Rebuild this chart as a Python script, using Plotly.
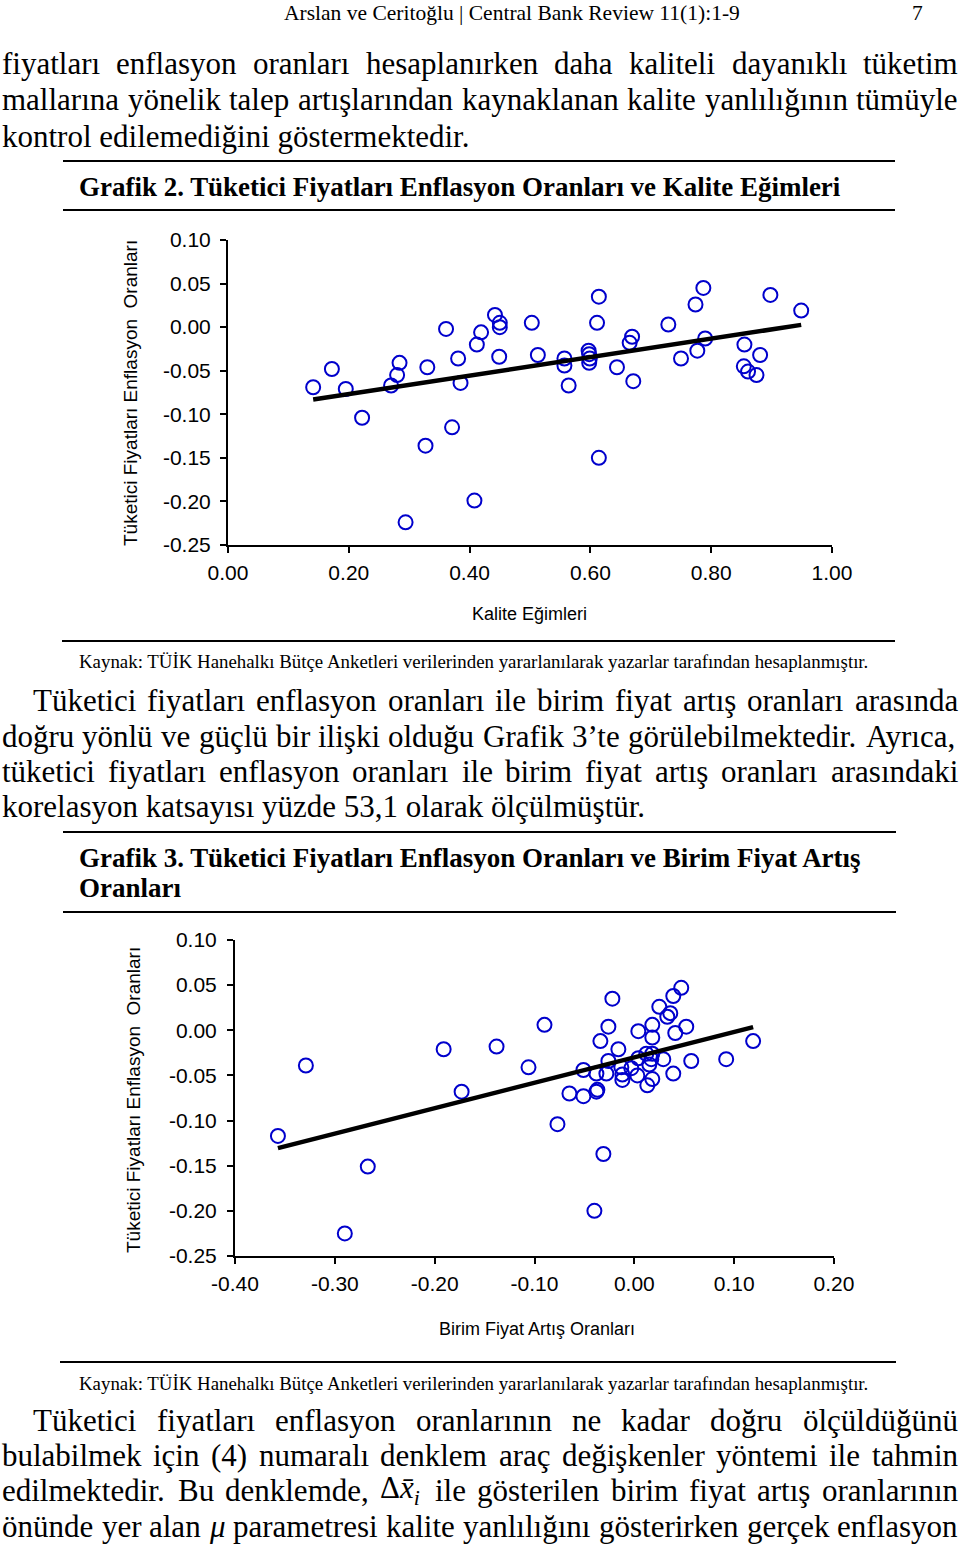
import plotly.graph_objects as go

W, H = 960, 1546

# ---------------- data: Grafik 2 ----------------
kalite_egimleri = [0.141, 0.172, 0.195, 0.222, 0.270, 0.280, 0.284, 0.294, 0.327, 0.330,
                   0.361, 0.371, 0.381, 0.385, 0.408, 0.412, 0.419, 0.442, 0.450, 0.450,
                   0.449, 0.503, 0.513, 0.557, 0.557, 0.564, 0.597, 0.598, 0.599, 0.598,
                   0.614, 0.611, 0.614, 0.644, 0.669, 0.665, 0.671, 0.729, 0.750, 0.774,
                   0.787, 0.777, 0.790, 0.855, 0.854, 0.861, 0.875, 0.881, 0.898, 0.949]
enflasyon_g2 = [-0.069, -0.048, -0.071, -0.104, -0.067, -0.055, -0.041, -0.224, -0.136, -0.046,
                -0.002, -0.115, -0.036, -0.064, -0.199, -0.020, -0.006, 0.014, 0.005, 0.000,
                -0.034, 0.005, -0.032, -0.036, -0.044, -0.067, -0.027, -0.031, -0.036, -0.041,
                0.035, 0.005, -0.150, -0.046, -0.011, -0.018, -0.062, 0.003, -0.036, 0.026,
                0.045, -0.027, -0.013, -0.020, -0.045, -0.051, -0.055, -0.032, 0.037, 0.019]
trend_g2_slope = 0.106
trend_g2_intercept = -0.098

# ---------------- data: Grafik 3 ----------------
birim_fiyat_artis = [-0.357, -0.329, -0.290, -0.267, -0.191, -0.173, -0.138, -0.106, -0.090, -0.077,
                     -0.065, -0.051, -0.051, -0.040, -0.038, -0.037, -0.038, -0.034, -0.031, -0.026,
                     -0.022, -0.028, -0.026, -0.016, -0.012, -0.012, -0.013, -0.003, 0.003, 0.004,
                     0.004, 0.013, 0.012, 0.017, 0.015, 0.018, 0.018, 0.018, 0.018, 0.025,
                     0.029, 0.033, 0.036, 0.039, 0.047, 0.041, 0.039, 0.052, 0.057, 0.092, 0.119]
enflasyon_g3 = [-0.117, -0.039, -0.225, -0.151, -0.021, -0.068, -0.018, -0.041, 0.006, -0.104,
                -0.070, -0.073, -0.044, -0.200, -0.068, -0.066, -0.048, -0.012, -0.137, 0.004,
                0.035, -0.048, -0.034, -0.021, -0.049, -0.055, -0.041, -0.042, -0.050, -0.031,
                -0.001, -0.061, -0.026, -0.032, -0.038, -0.054, -0.008, 0.006, -0.026, 0.026,
                -0.032, 0.015, 0.019, 0.038, 0.047, -0.003, -0.048, 0.004, -0.034, -0.032, -0.012]
trend_g3_slope = 0.2815
trend_g3_intercept = -0.030

y_ticks = [-0.25, -0.20, -0.15, -0.10, -0.05, 0.00, 0.05, 0.10]
x_ticks_g2 = [0.0, 0.2, 0.4, 0.6, 0.8, 1.0]
x_ticks_g3 = [-0.4, -0.3, -0.2, -0.1, 0.0, 0.1, 0.2]

# ---------------- text ----------------
header_text = "Arslan ve Ceritoğlu | Central Bank Review 11(1):1-9"
page_no = "7"
para1 = ["fiyatları enflasyon oranları hesaplanırken daha kaliteli dayanıklı tüketim",
         "mallarına yönelik talep artışlarından kaynaklanan kalite yanlılığının tümüyle",
         "kontrol edilemediğini göstermektedir."]
caption2 = "Grafik 2. Tüketici Fiyatları Enflasyon Oranları ve Kalite Eğimleri"
source_text = "Kaynak: TÜİK Hanehalkı Bütçe Anketleri verilerinden yararlanılarak yazarlar tarafından hesaplanmıştır."
para2 = ["Tüketici fiyatları enflasyon oranları ile birim fiyat artış oranları arasında",
         "doğru yönlü ve güçlü bir ilişki olduğu Grafik 3’te görülebilmektedir. Ayrıca,",
         "tüketici fiyatları enflasyon oranları ile birim fiyat artış oranları arasındaki",
         "korelasyon katsayısı yüzde 53,1 olarak ölçülmüştür."]
caption3 = ["Grafik 3. Tüketici Fiyatları Enflasyon Oranları ve Birim Fiyat Artış", "Oranları"]
para3 = ["Tüketici fiyatları enflasyon oranlarının ne kadar doğru ölçüldüğünü",
         "bulabilmek için (4) numaralı denklem araç değişkenler yöntemi ile tahmin",
         "edilmektedir. Bu denklemde, Δx̄i ile gösterilen birim fiyat artış oranlarının",
         "önünde yer alan μ parametresi kalite yanlılığını gösterirken gerçek enflasyon"]
special_words = {"Δx̄i": ("Δ<i>x̄</i><sub><i>i</i></sub>", "Δxi"),
                 "μ": ("<i>μ</i>", "μ")}
y_title = "Tüketici Fiyatları Enflasyon  Oranları"
x_title_g2 = "Kalite Eğimleri"
x_title_g3 = "Birim Fiyat Artış Oranları"

# approximate Times metrics (per 1000 em)
TR = {' ': 250, '(': 333, ')': 333, ',': 250, '-': 333, '.': 250, ':': 278, '|': 200, '’': 333,
      'A': 722, 'B': 667, 'C': 667, 'D': 722, 'E': 611, 'F': 556, 'G': 722, 'H': 722, 'I': 333,
      'K': 722, 'L': 611, 'M': 889, 'N': 722, 'O': 722, 'P': 556, 'R': 667, 'S': 556, 'T': 611,
      'U': 722, 'V': 722, 'Y': 722, 'Z': 611, 'İ': 333, 'Ü': 722, 'Ö': 722, 'Δ': 612, 'μ': 500,
      'a': 444, 'b': 500, 'c': 444, 'd': 500, 'e': 444, 'f': 333, 'g': 500, 'h': 500, 'i': 278,
      'j': 278, 'k': 500, 'l': 278, 'm': 778, 'n': 500, 'o': 500, 'p': 500, 'q': 500, 'r': 333,
      's': 389, 't': 278, 'u': 500, 'v': 500, 'w': 722, 'x': 500, 'y': 500, 'z': 444,
      'ı': 278, 'ş': 389, 'ç': 444, 'ğ': 500, 'ö': 500, 'ü': 500}
TB = dict(TR)
TB.update({'E': 667, 'F': 611, 'G': 778, 'K': 778, 'O': 778, 'T': 667, 'A': 722, 'B': 667,
           'a': 500, 'b': 556, 'd': 556, 'h': 556, 'k': 556, 'm': 833, 'n': 556, 'p': 556,
           'r': 444, 't': 333, 'u': 556, 'ü': 556})


def em(s, table):
    return sum(table.get(ch, 500) for ch in s) / 1000.0


SERIF = "Liberation Serif"
SANS = "Liberation Sans"
annotations = []
shapes = []


def fx(px):
    return px / W


def fy(py):
    return 1 - py / H


def ann(text, px, py, size, family=SERIF, xanchor="left", angle=0):
    annotations.append(dict(text=text, x=fx(px), y=fy(py), xref="paper", yref="paper",
                            xanchor=xanchor, yanchor="middle", showarrow=False,
                            textangle=angle, borderpad=0,
                            font=dict(family=family, size=size, color="black")))


def justified(line, py, left, right, size):
    items = []
    for w in line.split(" "):
        if w in special_words:
            html, meas = special_words[w]
        else:
            html, meas = w, w
        items.append((html, em(meas, TR) * size))
    gap = (right - left - sum(w for _, w in items)) / (len(items) - 1)
    x = left
    for html, w in items:
        ann(html, x, py, size)
        x += w + gap


def rule(py, x0, x1):
    shapes.append(dict(type="line", xref="paper", yref="paper", x0=fx(x0), x1=fx(x1),
                       y0=fy(py), y1=fy(py), line=dict(color="black", width=2)))


BODY = 31
# header
hsize = 457 / em(header_text, TR)
ann(header_text, 283, 13, hsize)
ann(page_no, 917, 13, hsize, xanchor="center")

# paragraph 1
justified(para1[0], 64, 1, 957, BODY)
justified(para1[1], 100, 1, 957, BODY)
ann(para1[2], 1, 136, BODY)

# caption 2
csize = 762 / em(caption2, TB)
rule(161, 63, 895)
ann("<b>" + caption2 + "</b>", 78, 187, csize)
rule(210, 63, 895)

ssize = 792 / em(source_text, TR)
rule(641, 62, 895)
ann(source_text, 78, 662, ssize)

# paragraph 2
justified(para2[0], 700, 32, 957, BODY)
justified(para2[1], 736, 1, 957, BODY)
justified(para2[2], 771, 1, 957, BODY)
ann(para2[3], 1, 807, BODY)

# caption 3
rule(832, 63, 896)
ann("<b>" + caption3[0] + "</b>", 78, 858, csize)
ann("<b>" + caption3[1] + "</b>", 78, 888, csize)
rule(912, 63, 896)

rule(1362, 60, 896)
ann(source_text, 78, 1383, ssize)

# paragraph 3
justified(para3[0], 1420, 32, 957, BODY)
justified(para3[1], 1455, 1, 957, BODY)
justified(para3[2], 1490, 1, 957, BODY)
justified(para3[3], 1526, 1, 957, BODY)

# axis titles
ann(y_title, 130, 393, 19, SANS, xanchor="center", angle=-90)
ann(x_title_g2, 529, 614, 18, SANS, xanchor="center")
ann(y_title, 133, 1100, 19, SANS, xanchor="center", angle=-90)
ann(x_title_g3, 537, 1329, 18, SANS, xanchor="center")

# ---------------- figure ----------------
fig = go.Figure()
MARK = dict(symbol="circle-open", size=14, color="#0000CC", line=dict(width=2, color="#0000CC"))

fig.add_trace(go.Scatter(x=kalite_egimleri, y=enflasyon_g2, mode="markers", marker=MARK,
                         xaxis="x", yaxis="y", hoverinfo="skip"))
t2x = [min(kalite_egimleri), max(kalite_egimleri)]
fig.add_trace(go.Scatter(x=t2x, y=[trend_g2_intercept + trend_g2_slope * v for v in t2x],
                         mode="lines", line=dict(color="black", width=4.5),
                         xaxis="x", yaxis="y", hoverinfo="skip"))

fig.add_trace(go.Scatter(x=birim_fiyat_artis, y=enflasyon_g3, mode="markers", marker=MARK,
                         xaxis="x2", yaxis="y2", hoverinfo="skip"))
t3x = [min(birim_fiyat_artis), max(birim_fiyat_artis)]
fig.add_trace(go.Scatter(x=t3x, y=[trend_g3_intercept + trend_g3_slope * v for v in t3x],
                         mode="lines", line=dict(color="black", width=4.5),
                         xaxis="x2", yaxis="y2", hoverinfo="skip"))

axis_common = dict(showline=True, linecolor="black", linewidth=2, ticks="outside", ticklen=6,
                   tickwidth=2, tickcolor="black", showgrid=False, zeroline=False,
                   automargin=False,
                   tickfont=dict(family=SANS, size=21, color="black"), tickmode="array")
ytext = [f"{v:.2f}" for v in y_ticks]

fig.update_layout(
    width=W, height=H, margin=dict(l=0, r=0, t=0, b=0, pad=0, autoexpand=False),
    paper_bgcolor="white", plot_bgcolor="white", showlegend=False,
    xaxis=dict(domain=[fx(228), fx(832)], range=[0, 1], anchor="y", ticklabelstandoff=2,
               tickvals=x_ticks_g2, ticktext=[f"{v:.2f}" for v in x_ticks_g2], **axis_common),
    yaxis=dict(domain=[fy(545), fy(240)], range=[-0.25, 0.10], anchor="x", ticklabelstandoff=5,
               tickvals=y_ticks, ticktext=ytext, **axis_common),
    xaxis2=dict(domain=[fx(235), fx(834)], range=[-0.4, 0.2], anchor="y2", ticklabelstandoff=2,
                tickvals=x_ticks_g3, ticktext=[f"{v:.2f}" for v in x_ticks_g3], **axis_common),
    yaxis2=dict(domain=[fy(1256), fy(940)], range=[-0.25, 0.10], anchor="x2", ticklabelstandoff=6,
                tickvals=y_ticks, ticktext=ytext, **axis_common),
    annotations=annotations, shapes=shapes,
)

fig.write_html("out.html", config={"displayModeBar": False},
               post_script="document.body.style.margin='0';document.body.style.padding='0';")
